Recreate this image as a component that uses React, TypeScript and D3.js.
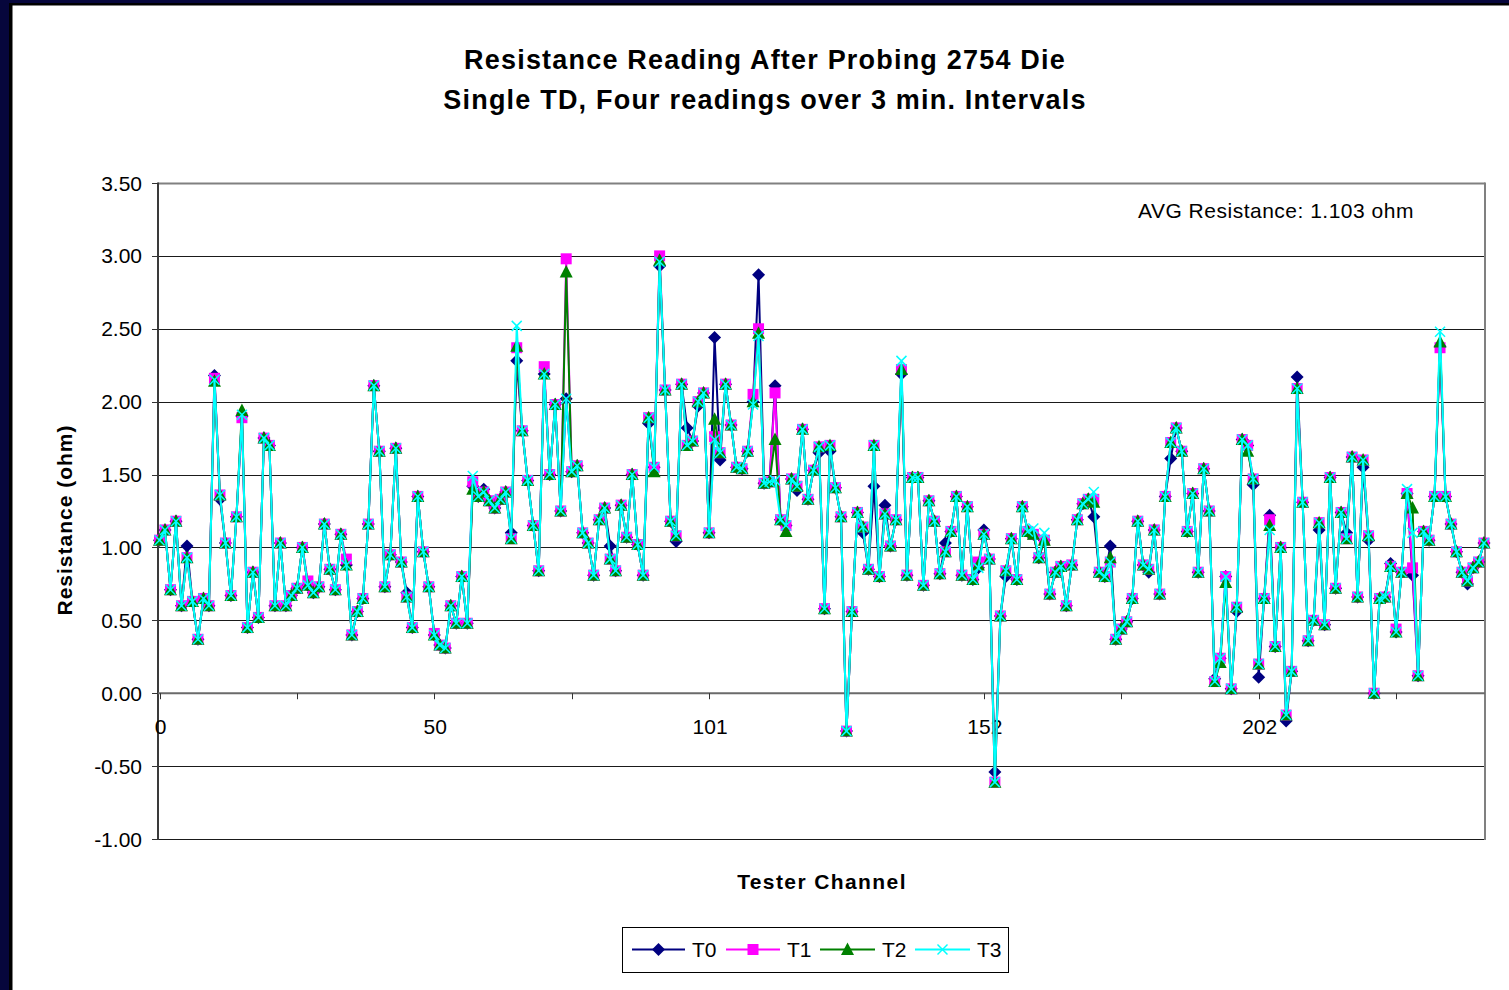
import React from 'react';
import * as d3 from 'd3';

const W = 1509;
const H = 990;

// Common reading per channel index (where the four readings coincide)
const base: number[] = [
  1.05, 1.12, 0.71, 1.18, 0.60, 0.93, 0.63, 0.37, 0.65, 0.60,
  2.15, 1.36, 1.03, 0.67, 1.21, 1.91, 0.45, 0.83, 0.52, 1.75,
  1.70, 0.60, 1.03, 0.60, 0.67, 0.72, 1.00, 0.74, 0.69, 0.73,
  1.16, 0.85, 0.71, 1.09, 0.88, 0.40, 0.56, 0.65, 1.16, 2.11,
  1.66, 0.73, 0.95, 1.68, 0.90, 0.66, 0.45, 1.35, 0.97, 0.73,
  0.40, 0.33, 0.31, 0.60, 0.48, 0.80, 0.48, 1.42, 1.35, 1.38,
  1.32, 1.27, 1.33, 1.38, 1.06, 2.37, 1.80, 1.46, 1.15, 0.84,
  2.19, 1.50, 1.98, 1.25, 2.02, 1.52, 1.56, 1.10, 1.03, 0.81,
  1.19, 1.27, 0.92, 0.84, 1.29, 1.07, 1.50, 1.02, 0.81, 1.89,
  1.55, 2.97, 2.08, 1.18, 1.08, 2.12, 1.70, 1.73, 2.00, 2.06,
  1.10, 1.76, 1.65, 2.12, 1.84, 1.55, 1.54, 1.66, 2.00, 2.47,
  1.44, 1.45, 2.06, 1.19, 1.15, 1.47, 1.42, 1.81, 1.33, 1.53,
  1.69, 0.58, 1.70, 1.41, 1.21, -0.26, 0.56, 1.24, 1.14, 0.85,
  1.70, 0.80, 1.23, 1.01, 1.19, 2.22, 0.81, 1.48, 1.48, 0.74,
  1.32, 1.18, 0.82, 0.97, 1.11, 1.35, 0.81, 1.28, 0.78, 0.88,
  1.09, 0.92, -0.61, 0.53, 0.84, 1.06, 0.78, 1.28, 1.11, 1.09,
  0.93, 1.05, 0.68, 0.83, 0.87, 0.60, 0.88, 1.19, 1.30, 1.33,
  1.32, 0.83, 0.80, 0.90, 0.37, 0.44, 0.49, 0.65, 1.18, 0.88,
  0.85, 1.12, 0.68, 1.35, 1.72, 1.82, 1.66, 1.11, 1.37, 0.83,
  1.54, 1.25, 0.08, 0.24, 0.80, 0.03, 0.59, 1.74, 1.70, 1.47,
  0.20, 0.65, 1.19, 0.32, 1.00, -0.15, 0.15, 2.09, 1.31, 0.36,
  0.50, 1.17, 0.47, 1.48, 0.72, 1.24, 1.06, 1.62, 0.66, 1.60,
  1.08, 0.00, 0.65, 0.66, 0.87, 0.42, 0.83, 1.37, 0.86, 0.12,
  1.11, 1.05, 1.35, 2.38, 1.35, 1.16, 0.97, 0.83, 0.77, 0.86,
  0.90, 1.03,
];

// Readings where a series differs from the common value: [channel index, value]
const T0_diff: [number, number][] = [
  [5, 1.01], [10, 2.18], [11, 1.33], [15, 1.90], [45, 0.69], [59, 1.40], [64, 1.10], [65, 2.28],
  [82, 1.01], [89, 1.85], [91, 2.93], [94, 1.04], [96, 1.82], [98, 1.97], [101, 2.44], [102, 1.60],
  [109, 2.87], [112, 2.11], [116, 1.39], [120, 1.65], [122, 1.66], [128, 1.10], [130, 1.42], [132, 1.29],
  [135, 2.19], [143, 1.03], [149, 0.86], [150, 1.12], [152, -0.54], [154, 0.80], [170, 1.21], [173, 1.01],
  [180, 0.83], [184, 1.61], [192, 0.10], [196, 0.56], [199, 1.43], [200, 0.11], [202, 1.22], [205, -0.19],
  [207, 2.17], [211, 1.12], [216, 1.10], [219, 1.55], [220, 1.05], [224, 0.89], [228, 0.81], [238, 0.75],
];
const T1_diff: [number, number][] = [
  [10, 2.16], [15, 1.89], [27, 0.77], [34, 0.92], [50, 0.41], [57, 1.45], [70, 2.24], [74, 2.98],
  [91, 3.00], [108, 2.05], [109, 2.50], [149, 0.90], [170, 1.33], [225, 0.44], [233, 2.37],
];
const T2_diff: [number, number][] = [
  [10, 2.14], [15, 1.94], [57, 1.40], [65, 2.38], [74, 2.89], [90, 1.52], [101, 1.88], [109, 2.47],
  [112, 1.74], [114, 1.11], [149, 0.88], [170, 1.31], [173, 0.93], [193, 0.21], [194, 0.76], [198, 1.66],
  [202, 1.15], [228, 1.27], [233, 2.41],
];
const T3_diff: [number, number][] = [
  [57, 1.49], [65, 2.52], [91, 2.96], [101, 1.74], [108, 1.98], [109, 2.45], [112, 1.46], [135, 2.28],
  [149, 0.86], [159, 1.13], [161, 1.10], [170, 1.38], [202, 1.12], [227, 1.40], [228, 1.10], [233, 2.48],
];

const seriesNames = ['T0', 'T1', 'T2', 'T3'];
const seriesColors = ['#000080', '#FF00FF', '#008000', '#00FFFF'];
const seriesMarkers = ['diamond', 'square', 'triangle', 'x'];
const diffs = [T0_diff, T1_diff, T2_diff, T3_diff];

const tickLabelIndex = [0, 50, 100, 150, 200];
const tickLabelText = ['0', '50', '101', '152', '202'];
const yTicks = [3.5, 3.0, 2.5, 2.0, 1.5, 1.0, 0.5, 0.0, -0.5, -1.0];

const titleLines = ['Resistance Reading After Probing 2754 Die', 'Single TD, Four readings over 3 min. Intervals'];
const avgText = 'AVG Resistance: 1.103 ohm';

const FONT = "'Liberation Sans', Arial, Helvetica, sans-serif";

function Marker({ type, cx, cy, color }: { type: string; cx: number; cy: number; color: string }) {
  if (type === 'diamond') {
    return <path d={`M${cx},${cy - 6.5}L${cx + 6.5},${cy}L${cx},${cy + 6.5}L${cx - 6.5},${cy}Z`} fill={color} />;
  }
  if (type === 'square') {
    return <rect x={cx - 5.5} y={cy - 5.5} width={11} height={11} fill={color} />;
  }
  if (type === 'triangle') {
    return <path d={`M${cx},${cy - 7}L${cx + 6.5},${cy + 5.5}L${cx - 6.5},${cy + 5.5}Z`} fill={color} />;
  }
  return (
    <g stroke={color} strokeWidth={1.5}>
      <line x1={cx - 5} y1={cy - 5} x2={cx + 5} y2={cy + 5} />
      <line x1={cx - 5} y1={cy + 5} x2={cx + 5} y2={cy - 5} />
    </g>
  );
}

export default function App() {
  const left = 158;
  const right = 1485;
  const top = 183;
  const bottom = 839;
  const n = base.length;

  const x = d3.scaleLinear().domain([0, n - 1]).range([159.5, 1484]);
  const y = d3.scaleLinear().domain([-1, 3.5]).range([bottom, top]);

  const series = diffs.map((d) => {
    const m = new Map<number, number>(d);
    return base.map((v, i) => (m.has(i) ? (m.get(i) as number) : v));
  });

  const line = d3
    .line<number>()
    .x((_, i) => x(i))
    .y((v) => y(v));

  const xTicks = d3.range(0, n, 25);

  const legendItems = [
    { x1: 632, x2: 685, tx: 692 },
    { x1: 726, x2: 780, tx: 787 },
    { x1: 820, x2: 875, tx: 882 },
    { x1: 915, x2: 970, tx: 977 },
  ];

  return (
    <svg
      width={W}
      height={H}
      style={{ position: 'absolute', left: 0, top: 0, display: 'block' }}
      fontFamily={FONT}
    >
      <rect x={0} y={0} width={W} height={H} fill="#06063c" />
      <rect x={9} y={3} width={W - 9} height={H - 3} fill="#000" />
      <rect x={12.5} y={5.5} width={W - 12.5} height={H - 5.5} fill="#fff" />

      {/* Title */}
      {titleLines.map((t, i) => (
        <text
          key={t}
          x={765}
          y={69 + i * 40}
          textAnchor="middle"
          fontSize={27}
          fontWeight="bold"
          letterSpacing={1.2}
          fill="#000"
        >
          {t}
        </text>
      ))}

      {/* Gridlines */}
      {yTicks.map((v) => (
        <line
          key={`g${v}`}
          x1={left}
          x2={right}
          y1={Math.round(y(v)) + 0.5}
          y2={Math.round(y(v)) + 0.5}
          stroke={v === 3.5 ? '#808080' : '#1a1a1a'}
          strokeWidth={v === 3.5 ? 2 : 1}
        />
      ))}
      {/* Right border */}
      <line x1={right} x2={right} y1={top - 0.5} y2={bottom + 1} stroke="#808080" strokeWidth={2} />

      {/* Y axis */}
      <line x1={left} x2={left} y1={top - 0.5} y2={bottom + 1} stroke="#3a3a3a" strokeWidth={2} />
      {yTicks.map((v) => (
        <g key={`t${v}`}>
          <line x1={left - 6} x2={left} y1={Math.round(y(v)) + 0.5} y2={Math.round(y(v)) + 0.5} stroke="#333" strokeWidth={1} />
          <text x={142} y={y(v) + 7.5} textAnchor="end" fontSize={21} fill="#000">
            {v.toFixed(2)}
          </text>
        </g>
      ))}

      {/* X axis at zero */}
      <line x1={left} x2={right} y1={y(0)} y2={y(0)} stroke="#6a6a6a" strokeWidth={2} />
      {xTicks.map((i) => (
        <line key={`xt${i}`} x1={Math.round(x(i)) + 0.5} x2={Math.round(x(i)) + 0.5} y1={y(0)} y2={y(0) + 6} stroke="#333" strokeWidth={1} />
      ))}
      {tickLabelIndex.map((idx, k) => (
        <text key={`xl${idx}`} x={x(idx) + 1} y={734} textAnchor="middle" fontSize={21} fill="#000">
          {tickLabelText[k]}
        </text>
      ))}

      {/* Axis titles */}
      <text x={822} y={889} textAnchor="middle" fontSize={21} fontWeight="bold" letterSpacing={1.4} fill="#000">
        Tester Channel
      </text>
      <text
        transform={`translate(72,520) rotate(-90)`}
        textAnchor="middle"
        fontSize={21}
        fontWeight="bold"
        letterSpacing={1}
        fill="#000"
      >
        Resistance (ohm)
      </text>

      {/* AVG note */}
      <text x={1138} y={218} fontSize={21} letterSpacing={0.5} fill="#000">
        {avgText}
      </text>

      {/* Series */}
      {series.map((vals, s) => (
        <g key={seriesNames[s]}>
          <path d={line(vals) || ''} fill="none" stroke={seriesColors[s]} strokeWidth={2} strokeLinejoin="round" />
          {vals.map((v, i) => (
            <Marker key={i} type={seriesMarkers[s]} cx={x(i)} cy={y(v)} color={seriesColors[s]} />
          ))}
        </g>
      ))}

      {/* Legend */}
      <rect x={622.5} y={927.5} width={386} height={45} fill="#fff" stroke="#000" strokeWidth={1} />
      {legendItems.map((it, s) => (
        <g key={`lg${s}`}>
          <line x1={it.x1} x2={it.x2} y1={949.5} y2={949.5} stroke={seriesColors[s]} strokeWidth={2} />
          <Marker type={seriesMarkers[s]} cx={(it.x1 + it.x2) / 2} cy={949.5} color={seriesColors[s]} />
          <text x={it.tx} y={957} fontSize={21} fill="#000">
            {seriesNames[s]}
          </text>
        </g>
      ))}
    </svg>
  );
}
